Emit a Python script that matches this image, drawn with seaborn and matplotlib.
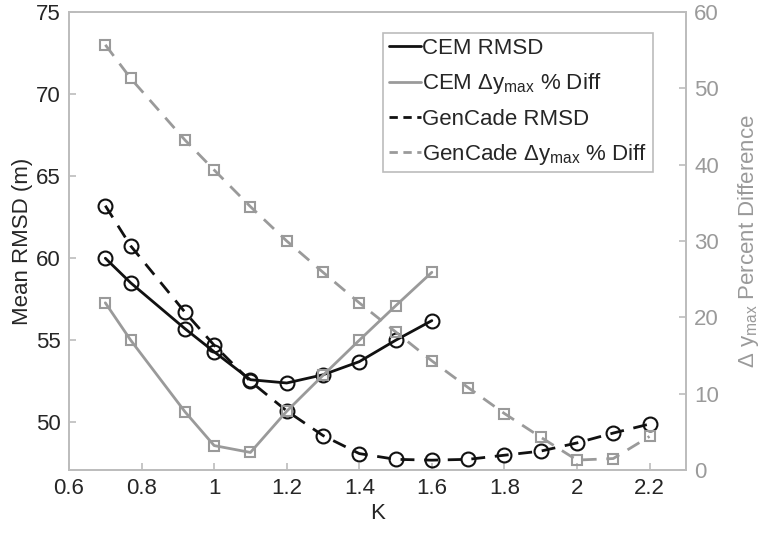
import numpy as np
import pandas as pd
import seaborn as sns
import matplotlib
matplotlib.use('Agg')
import matplotlib.pyplot as plt
from matplotlib.lines import Line2D

# Data
k_cem = [0.7, 0.77, 0.92, 1.0, 1.1, 1.2, 1.3, 1.4, 1.5, 1.6]
cem_rmsd = [60.0, 58.5, 55.7, 54.3, 52.6, 52.4, 52.9, 53.7, 55.0, 56.2]
cem_diff = [21.9, 17.0, 7.6, 3.2, 2.3, 7.7, 12.4, 17.0, 21.5, 25.9]

k_gen = [0.7, 0.77, 0.92, 1.0, 1.1, 1.2, 1.3, 1.4, 1.5, 1.6, 1.7, 1.8, 1.9, 2.0, 2.1, 2.2]
gen_rmsd = [63.2, 60.75, 56.7, 54.7, 52.5, 50.7, 49.2, 48.1, 47.75, 47.7,
            47.75, 48.0, 48.25, 48.75, 49.35, 49.9]
gen_diff = [55.7, 51.3, 43.2, 39.3, 34.5, 30.0, 25.9, 21.9, 18.1, 14.3,
            10.8, 7.4, 4.3, 1.3, 1.5, 4.4]

sns.set_style('white')
plt.rcParams['font.family'] = ['Liberation Sans', 'DejaVu Sans']
plt.rcParams['mathtext.fontset'] = 'custom'
plt.rcParams['mathtext.rm'] = 'Liberation Sans'
plt.rcParams['mathtext.it'] = 'Liberation Sans'

black = '#111111'
gray = '#9a9a9a'
spine_c = '#bcbcbc'
dash = (0, (5, 3.5))

fig = plt.figure(figsize=(7.62, 5.33), dpi=100)
ax = fig.add_axes([0.0906, 0.1182, 0.8094, 0.8593])
ax2 = ax.twinx()

mk_c = dict(marker='o', markersize=10, markerfacecolor='none', markeredgewidth=1.5)
mk_s = dict(marker='s', markersize=7, markerfacecolor='none', markeredgewidth=1.5)

sns.lineplot(x=k_cem, y=cem_rmsd, ax=ax, color=black, lw=2, markeredgecolor=black, **mk_c)
sns.lineplot(x=k_gen, y=gen_rmsd, ax=ax, color=black, lw=2, linestyle=dash,
             markeredgecolor=black, **mk_c)
sns.lineplot(x=k_cem, y=cem_diff, ax=ax2, color=gray, lw=2, markeredgecolor=gray, **mk_s)
sns.lineplot(x=k_gen, y=gen_diff, ax=ax2, color=gray, lw=2, linestyle=dash,
             markeredgecolor=gray, **mk_s)

ax.set_xlim(0.6, 2.3)
ax.set_ylim(47.1, 75)
ax2.set_ylim(0, 60)
ax.set_xticks([0.6, 0.8, 1.0, 1.2, 1.4, 1.6, 1.8, 2.0, 2.2])
ax.set_xticklabels(['0.6', '0.8', '1', '1.2', '1.4', '1.6', '1.8', '2', '2.2'])
ax.set_yticks([50, 55, 60, 65, 70, 75])
ax2.set_yticks([0, 10, 20, 30, 40, 50, 60])

for a in (ax, ax2):
    for s in a.spines.values():
        s.set_color(spine_c)
        s.set_linewidth(1.2)
ax.tick_params(axis='both', direction='in', length=5, width=1.2, color=spine_c,
               labelsize=16, labelcolor='#262626', pad=6, bottom=True, left=True)
ax2.tick_params(axis='y', direction='in', length=5, width=1.2, color=spine_c,
                labelsize=16, labelcolor=gray, pad=6, right=True)

ax.set_xlabel('K', fontsize=16, color='#262626', labelpad=3)
ax.set_ylabel('Mean RMSD (m)', fontsize=16, color='#262626', labelpad=2)
ax2.set_ylabel(r'$\Delta$ y$_{\rm max}$ Percent Difference', fontsize=16, color=gray,
               rotation=90, labelpad=12)

handles = [
    Line2D([], [], color=black, lw=2),
    Line2D([], [], color=gray, lw=2),
    Line2D([], [], color=black, lw=2, linestyle=(0, (3, 2))),
    Line2D([], [], color=gray, lw=2, linestyle=(0, (3, 2))),
]
labels = ['CEM RMSD', r'CEM $\Delta$y$_{\rm max}$ % Diff', 'GenCade RMSD',
          r'GenCade $\Delta$y$_{\rm max}$ % Diff']
for a in (ax, ax2):
    if a.get_legend() is not None:
        a.get_legend().remove()
leg = ax2.legend(handles, labels, loc='upper right', bbox_to_anchor=(0.947, 0.955),
                 fontsize=16, handlelength=1.45, handletextpad=0.05, borderpad=0.25,
                 labelspacing=0.55, borderaxespad=0, fancybox=False, framealpha=1,
                 edgecolor=spine_c)
leg.get_frame().set_linewidth(1.2)

fig.savefig('out.png', dpi=100)
